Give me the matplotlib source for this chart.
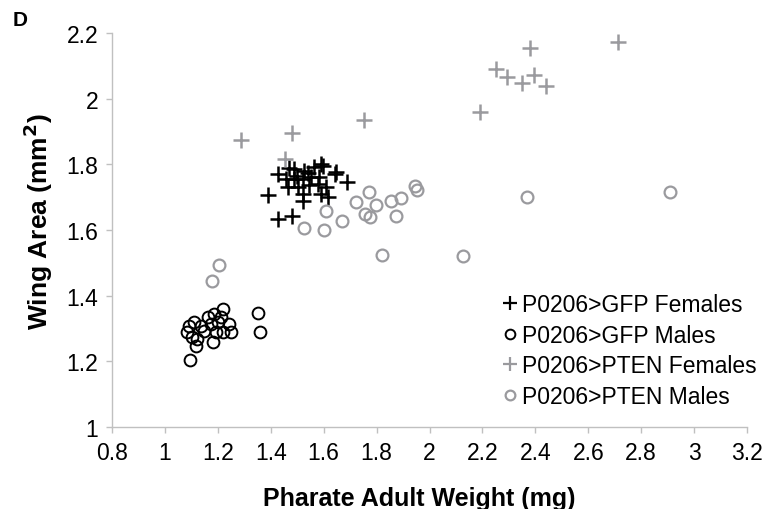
import matplotlib
matplotlib.use('Agg')
import matplotlib.pyplot as plt
from matplotlib.lines import Line2D

plt.rcParams['font.family'] = ['Liberation Sans', 'DejaVu Sans']

# P0206>GFP Females (black +)
gfp_f_x = [1.388, 1.426, 1.426, 1.479, 1.521, 1.590, 1.616, 1.647, 1.688,
           1.489, 1.527, 1.565, 1.597, 1.458, 1.489, 1.521, 1.552, 1.584,
           1.641, 1.464, 1.502, 1.546, 1.578, 1.609, 1.521, 1.590, 1.500,
           1.540, 1.470]
gfp_f_y = [1.708, 1.771, 1.634, 1.644, 1.689, 1.801, 1.700, 1.776, 1.745,
           1.786, 1.781, 1.791, 1.796, 1.755, 1.755, 1.755, 1.760, 1.760,
           1.771, 1.730, 1.730, 1.736, 1.741, 1.730, 1.710, 1.710, 1.765,
           1.775, 1.790]

# P0206>GFP Males (black o)
gfp_m_x = [1.092, 1.111, 1.085, 1.104, 1.123, 1.148, 1.161, 1.186, 1.218,
           1.211, 1.243, 1.250, 1.218, 1.180, 1.193, 1.174, 1.199, 1.136,
           1.094, 1.117, 1.350, 1.359]
gfp_m_y = [1.309, 1.319, 1.288, 1.273, 1.268, 1.293, 1.334, 1.344, 1.359,
           1.334, 1.314, 1.288, 1.288, 1.258, 1.288, 1.314, 1.319, 1.309,
           1.205, 1.248, 1.347, 1.290]

# P0206>PTEN Females (grey +)
pten_f_x = [1.286, 1.481, 1.752, 2.190, 2.252, 2.292, 2.349, 2.394, 2.442,
            2.381, 2.713, 1.452]
pten_f_y = [1.875, 1.895, 1.935, 1.960, 2.090, 2.065, 2.048, 2.072, 2.038,
            2.155, 2.172, 1.815]

# P0206>PTEN Males (grey o)
pten_m_x = [1.527, 1.603, 1.609, 1.670, 1.723, 1.773, 1.796, 1.755, 1.776,
            1.856, 1.894, 1.875, 1.944, 1.954, 1.822, 2.127, 1.203, 1.178,
            2.367, 2.910]
pten_m_y = [1.605, 1.600, 1.659, 1.626, 1.684, 1.717, 1.677, 1.649, 1.639,
            1.689, 1.698, 1.644, 1.735, 1.723, 1.524, 1.520, 1.493, 1.444,
            1.700, 1.715]

labels = ['P0206>GFP Females', 'P0206>GFP Males',
          'P0206>PTEN Females', 'P0206>PTEN Males']

grey = '#9a9a9e'

fig = plt.figure(figsize=(7.65, 5.1), dpi=100)
ax = fig.add_axes([112/765, 1 - 428/510, (747 - 112)/765, (428 - 34)/510])

ax.plot(gfp_f_x, gfp_f_y, ls='none', marker='+', ms=11, mew=1.8, color='black')
ax.plot(gfp_m_x, gfp_m_y, ls='none', marker='o', ms=8.5, mew=1.4,
        mfc='none', mec='black')
ax.plot(pten_f_x, pten_f_y, ls='none', marker='+', ms=11, mew=1.8, color=grey)
ax.plot(pten_m_x, pten_m_y, ls='none', marker='o', ms=8.5, mew=1.6,
        mfc='none', mec=grey)

ax.set_xlim(0.8, 3.2)
ax.set_ylim(1.0, 2.2)
ax.set_xticks([0.8, 1, 1.2, 1.4, 1.6, 1.8, 2, 2.2, 2.4, 2.6, 2.8, 3, 3.2])
ax.set_xticklabels(['0.8', '1', '1.2', '1.4', '1.6', '1.8', '2', '2.2',
                    '2.4', '2.6', '2.8', '3', '3.2'])
ax.set_yticks([1, 1.2, 1.4, 1.6, 1.8, 2, 2.2])
ax.set_yticklabels(['1', '1.2', '1.4', '1.6', '1.8', '2', '2.2'])

for s in ['top', 'right']:
    ax.spines[s].set_visible(False)
for s in ['left', 'bottom']:
    ax.spines[s].set_color('#c0c0c0')
    ax.spines[s].set_linewidth(1.0)
ax.tick_params(direction='out', length=4, width=1, color='#c0c0c0',
               labelsize=16.5, pad=6)

fig.text(419/765, 1 - 499/510, 'Pharate Adult Weight (mg)', ha='center',
         va='center', fontsize=18, fontweight='bold')
fig.text(38/765, 1 - 222/510, 'Wing Area (mm$^\\mathbf{2}$)', ha='center',
         va='center', rotation=90, fontsize=19, fontweight='bold')
fig.text(13/765, 1 - 21/510, 'D', ha='left', va='center', fontsize=15,
         fontweight='bold')

handles = [
    Line2D([], [], ls='none', marker='+', ms=10, mew=1.6, color='black'),
    Line2D([], [], ls='none', marker='o', ms=7, mew=1.4, mfc='none', mec='black'),
    Line2D([], [], ls='none', marker='+', ms=10, mew=1.6, color=grey),
    Line2D([], [], ls='none', marker='o', ms=7, mew=1.6, mfc='none', mec=grey),
]
ax.legend(handles, labels, loc='upper left', bbox_to_anchor=(503/765, 1 - 294/510),
          bbox_transform=fig.transFigure, frameon=False, fontsize=16.5,
          handlelength=0.6, handletextpad=0.25, labelspacing=0.33,
          borderpad=0, borderaxespad=0)

fig.savefig('out.png', dpi=100)
